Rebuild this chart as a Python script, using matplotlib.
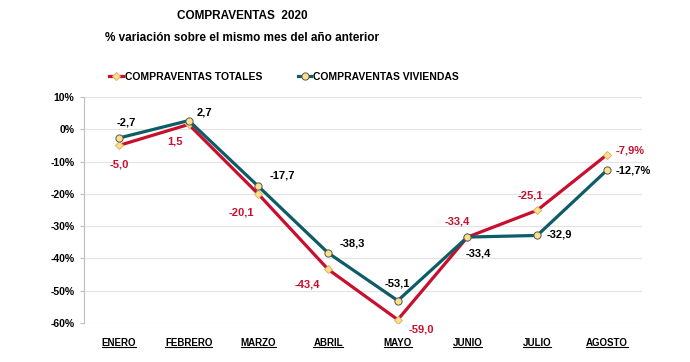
import matplotlib
matplotlib.use('Agg')
import matplotlib.pyplot as plt
from matplotlib.lines import Line2D

plt.rcParams['font.family'] = ['Liberation Sans', 'DejaVu Sans']

# ── Data ──────────────────────────────────────────────────────────────────────
MONTHS    = ['ENERO', 'FEBRERO', 'MARZO', 'ABRIL', 'MAYO', 'JUNIO', 'JULIO', 'AGOSTO']
TOTALES   = [-5.0, 1.5, -20.1, -43.4, -59.0, -33.4, -25.1, -7.9]
VIVIENDAS = [-2.7, 2.7, -17.7, -38.3, -53.1, -33.4, -32.9, -12.7]
Y_TICKS   = [10, 0, -10, -20, -30, -40, -50, -60]

# label offsets in points (dx, dy, ha)
TOT_OFF = [(0, -14, 'center'), (-10, -12, 'center'), (-12, -13, 'center'), (-15, -11, 'center'),
           (8, -7, 'left'), (-7, 11, 'center'), (-5, 11, 'center'), (6, 3, 'left')]
VIV_OFF = [(5, 11, 'center'), (6, 6, 'left'), (8, 8, 'left'), (8, 7, 'left'),
           (0, 12, 'center'), (8, -12, 'center'), (7, 1, 'left'), (6, 0, 'left')]

RED  = '#C8102E'
TEAL = '#0E5C66'
FILL = '#FFE08A'

fig = plt.figure(figsize=(6.9, 3.62), dpi=100)
ax = fig.add_axes([0.122, 0.108, 0.808, 0.624])

x = list(range(len(MONTHS)))
ax.plot(x, TOTALES, '-', color=RED, lw=2.3, marker='D', ms=4.2,
        mfc=FILL, mec='#D9B36A', mew=0.7, zorder=3, label='COMPRAVENTAS TOTALES')
ax.plot(x, VIVIENDAS, '-', color=TEAL, lw=2.3, marker='o', ms=5.2,
        mfc=FILL, mec='#555555', mew=0.7, zorder=4, label='COMPRAVENTAS VIVIENDAS')

def fmt(v, last):
    s = f'{v:.1f}'.replace('.', ',')
    return s + '%' if last else s

n = len(MONTHS)
for i in x:
    dx, dy, ha = TOT_OFF[i]
    ax.annotate(fmt(TOTALES[i], i == n - 1), (i, TOTALES[i]), xytext=(dx, dy),
                textcoords='offset points', ha=ha, va='center',
                fontsize=8, color=RED, fontweight='bold', zorder=6)
    dx, dy, ha = VIV_OFF[i]
    ax.annotate(fmt(VIVIENDAS[i], i == n - 1), (i, VIVIENDAS[i]), xytext=(dx, dy),
                textcoords='offset points', ha=ha, va='center',
                fontsize=8, color='black', fontweight='bold', zorder=6)

ax.set_xlim(-0.5, n - 0.5)
ax.set_ylim(-60, 10)
ax.set_yticks(Y_TICKS)
ax.set_yticklabels([f'{t}%' for t in Y_TICKS], fontsize=7.5, fontweight='bold')
ax.set_xticks(x)
ax.set_xticklabels(MONTHS, fontsize=7, fontweight='bold')
ax.tick_params(axis='x', length=0, pad=11)
ax.tick_params(axis='y', length=3, color='#BFBFBF', pad=4)
ax.grid(axis='y', color='#E3E3E3', lw=0.8)
ax.set_axisbelow(True)
for side in ['top', 'right', 'bottom']:
    ax.spines[side].set_visible(False)
ax.spines['left'].set_color('#BFBFBF')

fig.text(0.351, 0.955, 'COMPRAVENTAS  2020', ha='center', va='center',
         fontsize=8.5, fontweight='bold')
fig.text(0.351, 0.895, '% variación sobre el mismo mes del año anterior', ha='center',
         va='center', fontsize=8.5, fontweight='bold')

fig.legend(loc='center left', bbox_to_anchor=(0.145, 0.787), ncol=2, frameon=False,
           prop={'weight': 'bold', 'size': 7.5}, handlelength=1.3,
           handletextpad=0.2, columnspacing=3.4)

# underline the month labels
fig.canvas.draw()
r = fig.canvas.get_renderer()
for lab in ax.get_xticklabels():
    bb = lab.get_window_extent(r).transformed(fig.transFigure.inverted())
    fig.add_artist(Line2D([bb.x0, bb.x1], [bb.y0 + 0.004, bb.y0 + 0.004],
                          color='black', lw=0.8, transform=fig.transFigure))

fig.savefig('out.png', dpi=100)
